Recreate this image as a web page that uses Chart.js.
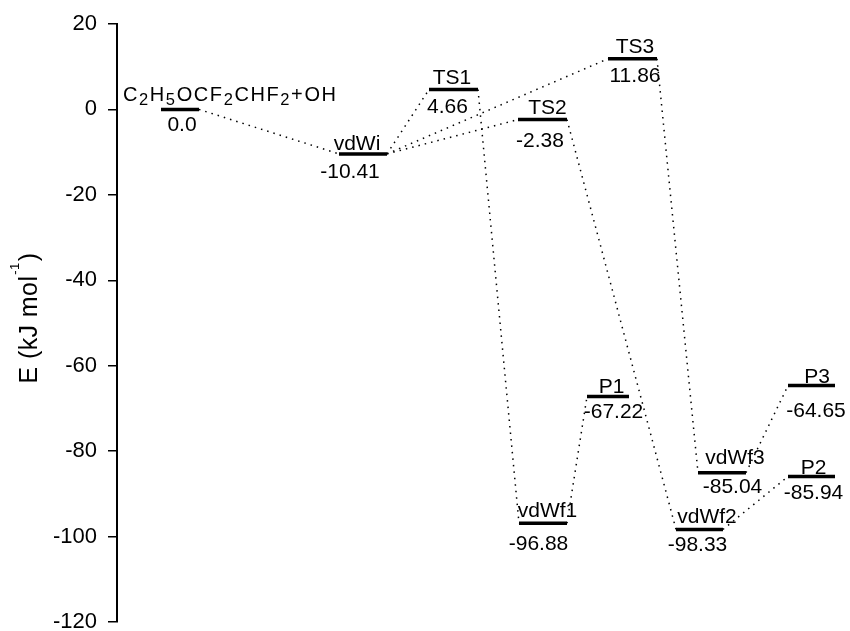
<!DOCTYPE html>
<html><head><meta charset="utf-8">
<script src="https://cdn.jsdelivr.net/npm/chart.js@4.4.1/dist/chart.umd.min.js"></script>
<style>html,body{margin:0;padding:0;background:#fff}canvas{display:block}</style>
</head><body>
<canvas id="c" width="850" height="631"></canvas>
<script>
// ---- data ----
const levelNames = ['C2H5OCF2CHF2+OH','vdWi','TS1','TS2','TS3','vdWf1','P1','vdWf2','vdWf3','P3','P2'];
const energies = [0.0,-10.41,4.66,-2.38,11.86,-96.88,-67.22,-98.33,-85.04,-64.65,-85.94];
const energyLabels = ['0.0','-10.41','4.66','-2.38','11.86','-96.88','-67.22','-98.33','-85.04','-64.65','-85.94'];
const links = [[0,1],[1,2],[1,3],[1,4],[2,5],[3,7],[4,8],[5,6],[7,10],[8,9]];
const yTickValues = [20,0,-20,-40,-60,-80,-100,-120];
const yTitleMain = 'E (kJ mol';
const yTitleSup = '-1';
const yTitleEnd = ')';

// ---- layout (positions along the reaction coordinate, label nudges) ----
const levelX = [63,246,336.5,425.5,515.5,426,491,582.5,605,694.5,694.5];
const levelHalf = [19,24,24.5,24.5,24.5,24,21,23.5,24,23.5,23.5];
const nameDx = [0,-6,-1.5,5,2.5,4.5,3.5,7.5,13,5.5,2];
const nameDy = [-8.7,-3.5,-6,-6,-6,-6,-3.5,-6,-9,-3,-2.5];
const valDx = [2,-13,-6,-2.5,2.5,-4.5,5.5,-2,10.5,4.5,2];
const valDy = [21.5,24.5,23.5,27,23,27,21.5,22,20.7,31,22];
const FONT = '"Liberation Sans", Arial, Helvetica, sans-serif';

const datasets = [];
levelNames.forEach((n,i)=>{
  datasets.push({
    data:[{x:levelX[i]-levelHalf[i],y:energies[i]},{x:levelX[i]+levelHalf[i],y:energies[i]}],
    borderColor:'#000', borderWidth:3.5, borderCapStyle:'butt', pointRadius:0, order:0
  });
});
links.forEach(([a,b])=>{
  datasets.push({
    data:[{x:levelX[a]+levelHalf[a],y:energies[a]},{x:levelX[b]-levelHalf[b],y:energies[b]}],
    borderColor:'#000', borderWidth:1.5, borderDash:[1.5,5], pointRadius:0, order:1
  });
});

const labelPlugin = {
  id:'labels',
  afterDatasetsDraw(chart){
    const ctx = chart.ctx, xs = chart.scales.x, ys = chart.scales.y;
    ctx.save();
    ctx.fillStyle = '#000';
    levelNames.forEach((name,i)=>{
      const cx = xs.getPixelForValue(levelX[i]);
      const cy = ys.getPixelForValue(energies[i]);
      if (i === 0) {
        // chemical formula: digits as subscripts, left aligned
        let x = xs.getPixelForValue(levelX[i]-levelHalf[i]) - 38;
        const base = cy + nameDy[i];
        ctx.letterSpacing = '1.6px';
        ctx.textAlign = 'left'; ctx.textBaseline = 'alphabetic';
        for (const ch of name) {
          const sub = /[0-9]/.test(ch);
          ctx.font = (sub ? '16.5px ' : '20px ') + FONT;
          ctx.fillText(ch, x, sub ? base + 4.5 : base);
          x += ctx.measureText(ch).width;
        }
      } else {
        ctx.letterSpacing = '0px';
        ctx.font = '21px ' + FONT;
        ctx.textAlign = 'center'; ctx.textBaseline = 'alphabetic';
        ctx.fillText(name, cx + nameDx[i], cy + nameDy[i]);
      }
      ctx.letterSpacing = '0px';
      ctx.font = '21px ' + FONT;
      ctx.textAlign = 'center'; ctx.textBaseline = 'alphabetic';
      ctx.fillText(energyLabels[i], cx + valDx[i], cy + valDy[i]);
    });
    // y-axis title with superscript
    ctx.letterSpacing = '0.4px';
    ctx.save();
    const midY = (chart.chartArea.top + chart.chartArea.bottom)/2;
    ctx.translate(37, midY - 5);
    ctx.rotate(-Math.PI/2);
    ctx.textAlign = 'left'; ctx.textBaseline = 'alphabetic';
    ctx.font = '25px ' + FONT; const w1 = ctx.measureText(yTitleMain).width;
    ctx.font = '13px ' + FONT; const w2 = ctx.measureText(yTitleSup).width;
    ctx.font = '25px ' + FONT; const w3 = ctx.measureText(yTitleEnd).width;
    let x = -(w1+w2+w3+2)/2;
    ctx.font = '25px ' + FONT; ctx.fillText(yTitleMain, x, 0); x += w1 + 1;
    ctx.font = '13px ' + FONT; ctx.fillText(yTitleSup, x, -18); x += w2 + 1;
    ctx.font = '25px ' + FONT; ctx.fillText(yTitleEnd, x, 0);
    ctx.restore();
    ctx.letterSpacing = '0px';
    ctx.restore();
  }
};

new Chart(document.getElementById('c'), {
  type:'line',
  data:{datasets},
  options:{
    responsive:false, animation:false, devicePixelRatio:1,
    layout:{padding:{top:24,bottom:9,left:0,right:0}},
    plugins:{legend:{display:false},tooltip:{enabled:false}},
    elements:{line:{tension:0,fill:false}},
    scales:{
      x:{type:'linear', display:false, min:0, max:733},
      y:{type:'linear', min:-120, max:20,
         afterBuildTicks(s){ s.ticks = yTickValues.map(v=>({value:v})); },
         afterFit(s){ s.width = 117; s.paddingTop = 0; s.paddingBottom = 0; },
         grid:{drawOnChartArea:false, drawTicks:true, tickLength:9, color:'#000', lineWidth:1.5},
         border:{display:true, color:'#000', width:2},
         ticks:{color:'#000', padding:11, font:{family:FONT, size:22}, autoSkip:false},
         title:{display:false}
      }
    }
  },
  plugins:[labelPlugin]
});
</script>
</body></html>
